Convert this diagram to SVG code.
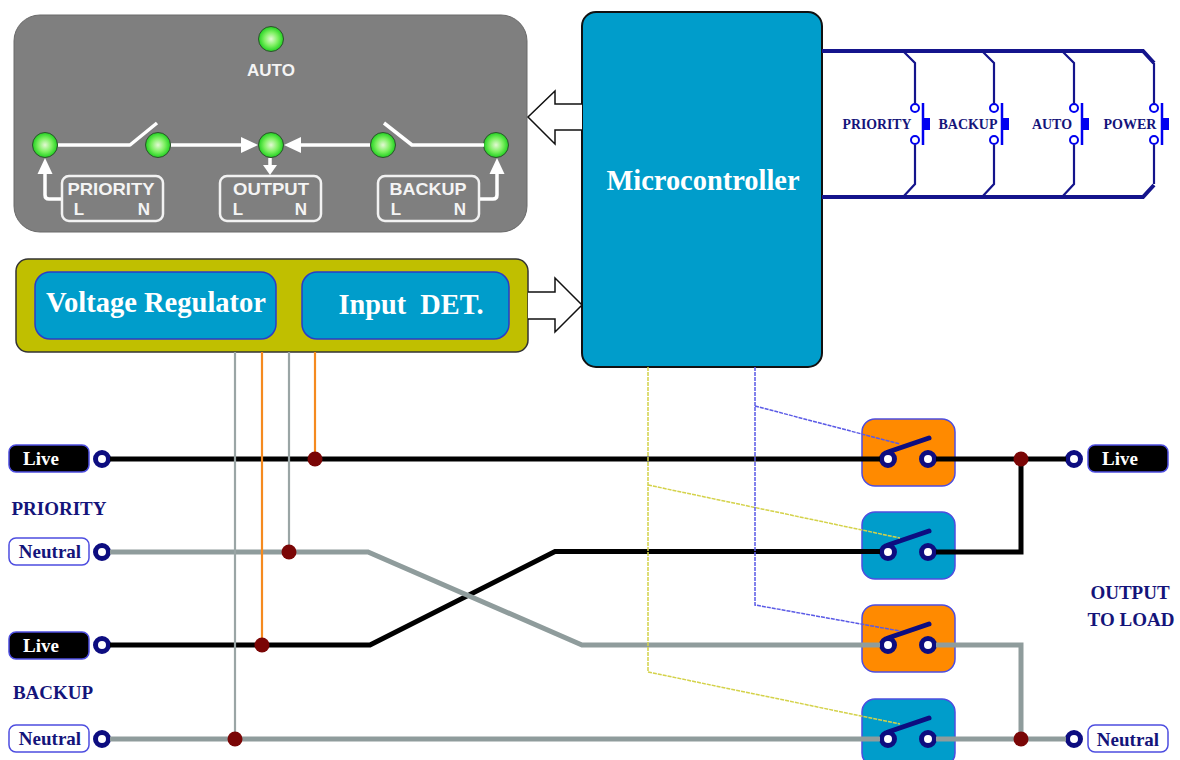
<svg xmlns="http://www.w3.org/2000/svg" width="1180" height="760" viewBox="0 0 1180 760">
<style>
text{font-family:"Liberation Serif","Times New Roman",serif;font-weight:bold}
.sans{font-family:"Liberation Sans",Arial,sans-serif;font-weight:bold;fill:#f4f4f4;font-size:17px}
.navy{fill:#14147a}
.wht{fill:#fff}
.blue{fill:#009dcb}
.orange{fill:#ff8a00}
.sw{stroke:#4d4de0;stroke-width:1.5}
.led{fill:url(#ledg);stroke:#2f4f2f;stroke-width:1}
.pw{fill:none;stroke:#fff;stroke-width:3.500;stroke-linejoin:round}
.ph{fill:#fff}
.lb{fill:none;stroke:#f2f2f2;stroke-width:2.500}
.term{fill:#fff;stroke:#0d0d80;stroke-width:5}
.blade{stroke:#0d0d80;stroke-width:5;stroke-linecap:round}
.black{fill:none;stroke:#000;stroke-width:5;stroke-linejoin:miter}
.gray{fill:none;stroke:#8f9c9c;stroke-width:5;stroke-linejoin:miter}
.vg{fill:none;stroke:#9aa5a5;stroke-width:2.200}
.vo{fill:none;stroke:#f58a1f;stroke-width:2.200}
.cy{fill:none;stroke:#d4d24a;stroke-width:1.500;stroke-dasharray:4 1}
.cb{fill:none;stroke:#5a5ae6;stroke-width:1.500;stroke-dasharray:4 1}
.bus{fill:none;stroke:#14148c;stroke-width:4}
.br{fill:none;stroke:#14148c;stroke-width:2.200}
.hol{fill:#fff;stroke:#111;stroke-width:1.500}
.jn{fill:#7a0606}
.kl{fill:#000;stroke:#4d4de0;stroke-width:1.500}
.wl{fill:#fff;stroke:#4d4de0;stroke-width:1.500}
.bp{fill:none;stroke:#0000f0;stroke-width:2.500}
.bb{fill:#0000f0}
.bc{fill:#fff;stroke:#0000f0;stroke-width:2}
.t13{font-size:14px;fill:#14147a}
.t18{font-size:19px}
</style>
<defs>
<radialGradient id="ledg"><stop offset="0" stop-color="#e4f8d4"/><stop offset=".55" stop-color="#7cf060"/><stop offset="1" stop-color="#20d020"/></radialGradient>
</defs>

<g id="status-panel">
<rect x="14" y="15" width="513" height="217" rx="26" fill="#7f7f7f" stroke="#6a6a6a"/>
<text class="sans" x="271" y="76" text-anchor="middle">AUTO</text>
<circle class="led" cx="271" cy="39" r="12.500"/>
<circle class="led" cx="45" cy="145" r="12.500"/>
<circle class="led" cx="158" cy="145" r="12.500"/>
<circle class="led" cx="271" cy="145" r="12.500"/>
<circle class="led" cx="383" cy="145" r="12.500"/>
<circle class="led" cx="496" cy="145" r="12.500"/>
<path class="pw" d="M58 145H130L157 123"/>
<path class="pw" d="M171 145H245"/><path class="ph" d="M258 145L241 137V153Z"/>
<path class="pw" d="M297 145H370"/><path class="ph" d="M284 145L301 137V153Z"/>
<path class="pw" d="M384 123L412 145H484"/>
<path class="pw" d="M270 158V168"/><path class="ph" d="M270 175L263 165H277Z"/>
<path class="pw" d="M62 199H49Q45 199 45 195V172"/><path class="ph" d="M45 158L37.500 174H52.500Z"/>
<path class="pw" d="M480 199H493Q497 199 497 195V172"/><path class="ph" d="M497 158L489.500 174H504.500Z"/>
</g>

<g id="priority-box">
<rect class="lb" x="62" y="176" width="101" height="45" rx="7"/>
<text class="sans" x="111" y="195" text-anchor="middle" textLength="87" lengthAdjust="spacingAndGlyphs">PRIORITY</text>
<text class="sans" x="79" y="215" text-anchor="middle">L</text>
<text class="sans" x="144" y="215" text-anchor="middle">N</text>
</g>
<g id="output-box">
<rect class="lb" x="220" y="176" width="101" height="45" rx="7"/>
<text class="sans" x="271" y="195" text-anchor="middle" textLength="76" lengthAdjust="spacingAndGlyphs">OUTPUT</text>
<text class="sans" x="238" y="215" text-anchor="middle">L</text>
<text class="sans" x="301" y="215" text-anchor="middle">N</text>
</g>
<g id="backup-box">
<rect class="lb" x="378" y="176" width="101" height="45" rx="7"/>
<text class="sans" x="428" y="195" text-anchor="middle" textLength="77" lengthAdjust="spacingAndGlyphs">BACKUP</text>
<text class="sans" x="396" y="215" text-anchor="middle">L</text>
<text class="sans" x="460" y="215" text-anchor="middle">N</text>
</g>

<g id="microcontroller">
<rect class="blue" x="582" y="12" width="240" height="355" rx="14" stroke="#111" stroke-width="2"/>
<text class="wht" x="703" y="190" text-anchor="middle" font-size="29" textLength="193" lengthAdjust="spacingAndGlyphs">Microcontroller</text>
</g>

<g id="power-block">
<rect x="16" y="259" width="512" height="93" rx="12" fill="#c0bf00" stroke="#333" stroke-width="1.500"/>
</g>
<g id="voltage-regulator">
<rect class="blue" x="35" y="272" width="241" height="67" rx="15" stroke="#2a3cc8" stroke-width="1.500"/>
<text class="wht" x="156" y="312" text-anchor="middle" font-size="30" textLength="220" lengthAdjust="spacingAndGlyphs">Voltage Regulator</text>
</g>
<g id="input-det">
<rect class="blue" x="302" y="272" width="207" height="67" rx="15" stroke="#2a3cc8" stroke-width="1.500"/>
<text class="wht" x="411" y="314" text-anchor="middle" font-size="30" textLength="145" lengthAdjust="spacingAndGlyphs" xml:space="preserve">Input  DET.</text>
</g>

<g id="button-priority">
<circle class="bc" cx="915" cy="108" r="4"/><circle class="bc" cx="915" cy="140" r="4"/>
<path class="bp" d="M923 103V145"/><rect class="bb" x="923" y="118" width="7" height="12"/>
<text class="t13" x="877" y="129" text-anchor="middle" textLength="69" lengthAdjust="spacingAndGlyphs">PRIORITY</text>
</g>
<g id="button-backup">
<circle class="bc" cx="994" cy="108" r="4"/><circle class="bc" cx="994" cy="140" r="4"/>
<path class="bp" d="M1002 103V145"/><rect class="bb" x="1002" y="118" width="7" height="12"/>
<text class="t13" x="968" y="129" text-anchor="middle" textLength="59" lengthAdjust="spacingAndGlyphs">BACKUP</text>
</g>
<g id="button-auto">
<circle class="bc" cx="1074" cy="108" r="4"/><circle class="bc" cx="1074" cy="140" r="4"/>
<path class="bp" d="M1082 103V145"/><rect class="bb" x="1082" y="118" width="7" height="12"/>
<text class="t13" x="1052" y="129" text-anchor="middle" textLength="40" lengthAdjust="spacingAndGlyphs">AUTO</text>
</g>
<g id="button-power">
<circle class="bc" cx="1154" cy="108" r="4"/><circle class="bc" cx="1154" cy="140" r="4"/>
<path class="bp" d="M1162 103V145"/><rect class="bb" x="1162" y="118" width="7" height="12"/>
<text class="t13" x="1130" y="129" text-anchor="middle" textLength="53" lengthAdjust="spacingAndGlyphs">POWER</text>
</g>

<g id="switch-1">
<rect class="orange sw" x="862" y="419" width="93" height="67" rx="13"/>
<line class="blade" x1="888" y1="452" x2="929" y2="438"/>
<circle class="term" cx="888" cy="459" r="6.500"/><circle class="term" cx="928" cy="459" r="6.500"/>
</g>
<g id="switch-2">
<rect class="blue sw" x="862" y="512" width="93" height="67" rx="13"/>
<line class="blade" x1="888" y1="545" x2="929" y2="531"/>
<circle class="term" cx="888" cy="552" r="6.500"/><circle class="term" cx="928" cy="552" r="6.500"/>
</g>
<g id="switch-3">
<rect class="orange sw" x="862" y="605" width="93" height="67" rx="13"/>
<line class="blade" x1="888" y1="638" x2="929" y2="624"/>
<circle class="term" cx="888" cy="645" r="6.500"/><circle class="term" cx="928" cy="645" r="6.500"/>
</g>
<g id="switch-4">
<rect class="blue sw" x="862" y="699" width="93" height="67" rx="13"/>
<line class="blade" x1="888" y1="732" x2="929" y2="718"/>
<circle class="term" cx="888" cy="739" r="6.500"/><circle class="term" cx="928" cy="739" r="6.500"/>
</g>

<g id="input-priority-live">
<rect class="kl" x="9" y="445" width="80" height="27" rx="7"/>
<text class="wht t18" x="41" y="465" text-anchor="middle">Live</text>
<circle class="term" cx="102" cy="459" r="6.500"/>
</g>
<g id="input-priority-neutral">
<rect class="wl" x="9" y="538" width="80" height="27" rx="7"/>
<text class="navy t18" x="50" y="558" text-anchor="middle">Neutral</text>
<circle class="term" cx="102" cy="552" r="6.500"/>
</g>
<g id="input-backup-live">
<rect class="kl" x="9" y="632" width="80" height="27" rx="7"/>
<text class="wht t18" x="41" y="652" text-anchor="middle">Live</text>
<circle class="term" cx="102" cy="645" r="6.500"/>
</g>
<g id="input-backup-neutral">
<rect class="wl" x="9" y="725" width="80" height="27" rx="7"/>
<text class="navy t18" x="50" y="745" text-anchor="middle">Neutral</text>
<circle class="term" cx="102" cy="739" r="6.500"/>
</g>
<g id="output-live">
<rect class="kl" x="1088" y="445" width="80" height="27" rx="7"/>
<text class="wht t18" x="1120" y="465" text-anchor="middle">Live</text>
<circle class="term" cx="1074" cy="459" r="6.500"/>
</g>
<g id="output-neutral">
<rect class="wl" x="1088" y="725" width="80" height="27" rx="7"/>
<text class="navy t18" x="1128" y="746" text-anchor="middle">Neutral</text>
<circle class="term" cx="1074" cy="739" r="6.500"/>
</g>

<g id="captions">
<text class="navy t18" x="59" y="515" text-anchor="middle">PRIORITY</text>
<text class="navy t18" x="53" y="699" text-anchor="middle">BACKUP</text>
<text class="navy t18" x="1130" y="599" text-anchor="middle">OUTPUT</text>
<text class="navy t18" x="1131" y="626" text-anchor="middle">TO LOAD</text>
</g>

<g id="connectors">
<path class="hol" d="M582 104H555V91L528 117L555 144V130H582"/>
<path class="hol" d="M528 292H555V278L582 305L555 332V319H528"/>

<path class="bus" d="M822 51H1143L1154 63"/>
<path class="bus" d="M822 197H1143L1154 185"/>
<path class="br" d="M903 51L915 63V103.500"/><path class="br" d="M915 144.500V184L903 197"/>
<path class="br" d="M982 51L994 63V103.500"/><path class="br" d="M994 144.500V184L982 197"/>
<path class="br" d="M1062 51L1074 63V103.500"/><path class="br" d="M1074 144.500V184L1062 197"/>
<path class="br" d="M1154 63V103.500"/><path class="br" d="M1154 144.500V184"/>

<path class="black" d="M110 459H880"/>
<path class="black" d="M936 459H1066"/>
<path class="black" d="M936 552H1021V459"/>
<path class="black" d="M110 645H370L555 551.500H880"/>
<path class="gray" d="M110 552H368L582 645H880"/>
<path class="gray" d="M110 739H880"/>
<path class="gray" d="M936 645H1021V739"/>
<path class="gray" d="M936 739H1066"/>

<path class="vg" d="M235 352V739"/>
<path class="vo" d="M262 352V645"/>
<path class="vg" d="M289 352V552"/>
<path class="vo" d="M315 352V459"/>

<path class="cy" d="M648 367V672L900 724"/>
<path class="cy" d="M648 485L900 538"/>
<path class="cb" d="M755 367V605L900 631"/>
<path class="cb" d="M755 406L900 444"/>
</g>

<g id="junctions">
<circle class="jn" cx="315" cy="459" r="7.500"/>
<circle class="jn" cx="289" cy="552" r="7.500"/>
<circle class="jn" cx="262" cy="645" r="7.500"/>
<circle class="jn" cx="235" cy="739" r="7.500"/>
<circle class="jn" cx="1021" cy="459" r="7.500"/>
<circle class="jn" cx="1021" cy="739" r="7.500"/>
</g>
</svg>
